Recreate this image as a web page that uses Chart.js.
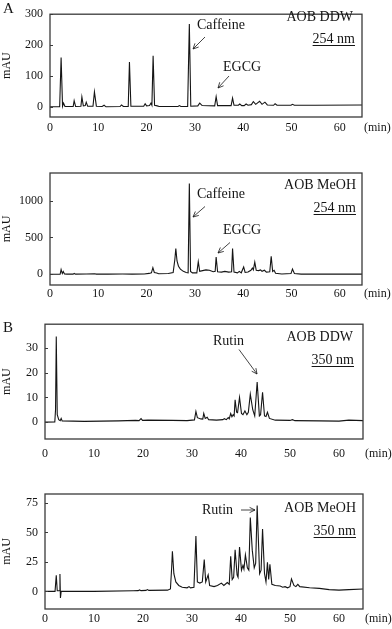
<!DOCTYPE html>
<html lang="en">
<head>
<meta charset="UTF-8">
<title>HPLC chromatograms</title>
<style>
    body { margin: 0; background: #fff; }
    #wrap { position: relative; width: 392px; height: 629px; }
    #wrap canvas { position: absolute; left: 0; }
</style>
</head>
<body>
<div id="wrap">
    <canvas id="c1" width="392" height="150" style="top:0px"></canvas>
    <canvas id="c2" width="392" height="160" style="top:150px"></canvas>
    <canvas id="c3" width="392" height="160" style="top:310px"></canvas>
    <canvas id="c4" width="392" height="159" style="top:470px"></canvas>
</div>

<script src="https://cdn.jsdelivr.net/npm/chart.js"></script>
<script>
    // [time (min), absorbance (mAU)]
    const ddw254 = [[0,0],[2.0,0],[2.3,160],[2.6,2],[2.8,12],[3.1,1],[4.8,1],[5.0,20],[5.3,1],[6.4,2],[6.6,32],[6.9,3],[7.3,4],[7.5,15],[7.8,2],
        [8.9,2],[9.2,48],[9.6,2],[10.8,1],[11.2,5],[11.6,0],[14.5,1],[14.8,6],[15.2,1],[16.2,1],[16.45,145],[16.75,2],[19.4,2],[19.7,10],[20.0,3],
        [20.6,4],[20.9,12],[21.1,5],[21.35,165],[21.65,5],[22.2,3],[22.6,1],[26.5,1],[26.8,4],[27.1,1],[28.5,1],[28.85,268],[29.15,2],[30.6,3],
        [31.0,12],[31.5,4],[34.1,3],[34.4,33],[34.7,4],[37.5,4],[37.8,28],[38.1,5],[39.0,5],[39.3,9],[39.7,4],[40.2,4],[40.6,9],[41.0,5],[41.7,7],
        [42.1,17],[42.6,8],[43.4,18],[43.9,8],[44.5,15],[45.0,6],[46.3,5],[46.6,10],[47.0,5],[49.9,5],[50.2,8],[50.6,5],[55,5],[64.6,6]];

    const meoh254 = [[0,0],[2.1,0],[2.3,65],[2.55,10],[2.75,38],[3.0,5],[3.5,2],[4.8,2],[5.0,12],[5.3,2],[7.5,5],[9.2,8],[9.6,2],[12,3],[15,4],
        [17,3],[19.5,5],[20.5,12],[21.0,20],[21.3,90],[21.6,25],[22.1,18],[22.5,8],[24.5,10],[25.5,25],[25.85,200],[26.05,350],[26.3,180],[26.6,110],
        [27.0,70],[27.6,40],[28.2,25],[28.6,20],[28.85,1230],[29.1,40],[29.5,20],[30.4,20],[30.7,170],[31.0,40],[31.6,50],[32.3,60],[33.0,55],
        [33.8,35],[34.2,40],[34.4,235],[34.7,35],[35.5,30],[36.2,40],[37.0,30],[37.6,35],[37.8,350],[38.1,30],[38.8,20],[39.2,40],[39.6,20],
        [40.1,100],[40.4,25],[41.0,30],[41.6,55],[41.9,85],[42.1,60],[42.4,165],[42.7,55],[43.2,50],[43.6,60],[43.9,40],[44.4,55],[44.8,30],
        [45.5,35],[45.8,245],[46.1,40],[46.4,55],[46.7,15],[48,5],[49.9,10],[50.2,70],[50.6,10],[52,3],[64.6,2]];

    const ddw350 = [[0,0],[2.0,0.1],[2.15,5],[2.3,34.5],[2.5,3],[2.8,1],[3.1,0.6],[3.3,1.5],[3.5,0.5],[8,0.3],[15,0.5],[18.5,0.7],[19.2,0.6],
        [19.6,1.4],[19.9,0.7],[21,0.8],[26,0.7],[29,0.6],[30.5,0.9],[30.8,4.3],[31.1,1.8],[31.8,1.3],[32.2,1.2],[32.4,3.5],[32.7,1.5],[33.1,2],
        [33.4,1],[35,0.8],[36.3,1],[36.6,1.4],[37.0,1],[37.4,1.8],[37.6,1.3],[37.9,3.5],[38.15,2.2],[38.4,3],[38.6,2.5],[38.8,9],[39.1,4],[39.3,3.8],
        [39.7,10],[40.1,3.5],[40.4,3],[40.8,4.5],[41.2,3],[41.5,4],[41.9,11.3],[42.4,5],[42.8,2.5],[43.3,16.2],[43.75,2.5],[44.0,3],[44.4,12],
        [44.8,2.5],[45.1,2.3],[45.4,4],[45.8,1.5],[47,0.8],[50,0.7],[50.5,1],[51,0.6],[56,0.5],[60,0.4],[62,0.8],[64.9,0.6]];

    const meoh350 = [[0,0],[2.05,0],[2.3,13.6],[2.5,0.5],[2.95,0.5],[3.05,14.7],[3.15,-5.7],[3.3,0],[10,0],[18,0.5],[19,0.6],[19.3,1.2],[19.6,0.6],
        [20.6,0.8],[20.9,1.5],[21.2,0.8],[25,1],[25.6,2],[25.85,20],[26.0,34],[26.3,15],[26.7,8],[27.3,5],[28,3.5],[29,3],[29.4,4],[29.7,3],
        [30.4,3.5],[30.8,47],[31.1,8],[31.6,7],[32.1,8],[32.5,27],[32.8,8],[33.3,14],[33.6,5],[34.5,4],[35.2,5],[36,7],[36.5,5],[37.2,7.5],[37.6,6],
        [37.9,29.7],[38.2,10],[38.5,12],[38.8,35.4],[39.2,14],[39.4,12],[39.7,37.6],[40.1,18],[40.4,22],[40.6,19],[40.9,31],[41.3,20],[41.6,18],
        [41.9,62.8],[42.3,35],[42.7,20],[43.0,24],[43.3,73],[43.8,15],[44.1,18],[44.4,53],[44.8,15],[45.1,8],[45.4,24.6],[45.65,10],[45.9,23],
        [46.3,6],[47,5],[48,4.5],[48.5,3.5],[49,4],[49.5,3],[50,4],[50.3,10.5],[50.8,5],[51.2,4],[51.6,6],[52,4],[54,3],[56,2.5],[58,1.5],[60,1],
        [62,1.5],[64.9,2]];

    const timeTicks = [0, 10, 20, 30, 40, 50, 60];
    const ticks254ddw = [0, 100, 200, 300];
    const ticks254meoh = [0, 500, 1000];
    const ticks350ddw = [0, 10, 20, 30];
    const ticks350meoh = [0, 25, 50, 75];

    const serif = '"Liberation Serif", "DejaVu Serif", serif';
    const ink = '#151515';

    // canvas-local plot box and label placement for every panel
    const panels = [
        {id: 'c1', data: ddw254, yTicks: ticks254ddw, yMin: -33, yMax: 300, xMax: 64.6,
            box: {l: 50, r: 362, t: 5, b: 117}, xPad: 4, minY: 131,
            texts: [
                {s: 'A', x: 3, y: 13, size: 15},
                {s: 'AOB DDW', x: 353, y: 21, align: 'right'},
                {s: '254 nm', x: 355, y: 43, align: 'right', under: true},
                {s: 'Caffeine', x: 197, y: 29},
                {s: 'EGCG', x: 223, y: 71}
            ],
            arrows: [[205, 37, 193, 49], [229, 76, 218, 88]]},
        {id: 'c2', data: meoh254, yTicks: ticks254meoh, yMin: -145, yMax: 1373, xMax: 64.6,
            box: {l: 50, r: 362, t: 23, b: 135}, xPad: 2, minY: 147,
            texts: [
                {s: 'AOB MeOH', x: 356, y: 39, align: 'right'},
                {s: '254 nm', x: 356, y: 62, align: 'right', under: true},
                {s: 'Caffeine', x: 197, y: 48},
                {s: 'EGCG', x: 223, y: 84}
            ],
            arrows: [[205, 56.5, 193, 67], [230, 92.5, 218, 103]]},
        {id: 'c3', data: ddw350, yTicks: ticks350ddw, yMin: -6.8, yMax: 39.5, xMax: 64.9,
            box: {l: 45, r: 363, t: 14, b: 129}, xPad: 8, minY: 147,
            texts: [
                {s: 'B', x: 3, y: 22, size: 15},
                {s: 'AOB DDW', x: 353, y: 31, align: 'right'},
                {s: '350 nm', x: 354, y: 54, align: 'right', under: true},
                {s: 'Rutin', x: 213, y: 35}
            ],
            arrows: [[239, 39.5, 257, 64]]},
        {id: 'c4', data: meoh350, yTicks: ticks350meoh, yMin: -15, yMax: 82.7, xMax: 64.9,
            box: {l: 45, r: 363, t: 24, b: 139}, xPad: 3, minY: 152,
            texts: [
                {s: 'AOB MeOH', x: 356, y: 42, align: 'right'},
                {s: '350 nm', x: 356, y: 65, align: 'right', under: true},
                {s: 'Rutin', x: 202, y: 44}
            ],
            arrows: [[241, 40, 255, 40]]}
    ];

    function arrow(ctx, x1, y1, x2, y2) {
        const a = Math.atan2(y2 - y1, x2 - x1);
        const h = 6;
        ctx.beginPath();
        ctx.moveTo(x1, y1);
        ctx.lineTo(x2, y2);
        ctx.moveTo(x2 - h * Math.cos(a - 0.45), y2 - h * Math.sin(a - 0.45));
        ctx.lineTo(x2, y2);
        ctx.lineTo(x2 - h * Math.cos(a + 0.45), y2 - h * Math.sin(a + 0.45));
        ctx.stroke();
    }

    const framePlugin = {
        id: 'frame',
        afterDraw(chart, args, opts) {
            const p = opts.panel;
            const ctx = chart.ctx;
            const a = chart.chartArea;
            const y = chart.scales.y;
            ctx.save();
            ctx.strokeStyle = '#3a3a3a';
            ctx.lineWidth = 1.3;
            ctx.strokeRect(a.left, a.top, a.right - a.left, a.bottom - a.top);
            ctx.lineWidth = 1;
            ctx.beginPath();
            p.yTicks.forEach(v => {
                const py = Math.round(y.getPixelForValue(v)) + 0.5;
                ctx.moveTo(a.left, py);
                ctx.lineTo(a.left + 3, py);
            });
            ctx.stroke();

            ctx.fillStyle = ink;
            ctx.strokeStyle = ink;
            ctx.textBaseline = 'alphabetic';
            p.texts.forEach(t => {
                ctx.font = (t.size || 14) + 'px ' + serif;
                ctx.textAlign = t.align || 'left';
                ctx.fillText(t.s, t.x, t.y);
                if (t.under) {
                    const w = ctx.measureText(t.s).width;
                    const x0 = t.align === 'right' ? t.x - w : t.x;
                    ctx.lineWidth = 1;
                    ctx.beginPath();
                    ctx.moveTo(x0, t.y + 2.5);
                    ctx.lineTo(x0 + w, t.y + 2.5);
                    ctx.stroke();
                }
            });
            ctx.font = '12px ' + serif;
            ctx.textAlign = 'left';
            ctx.fillText('(min)', a.right + 2, p.minY);

            ctx.lineWidth = 0.8;
            p.arrows.forEach(r => arrow(ctx, r[0], r[1], r[2], r[3]));
            ctx.restore();
        }
    };

    panels.forEach(p => {
        const canvas = document.getElementById(p.id);
        const h = canvas.height;
        new Chart(canvas, {
            type: 'line',
            data: {
                datasets: [{
                    data: p.data.map(d => ({x: d[0], y: d[1]})),
                    borderColor: ink,
                    borderWidth: 1.1,
                    pointRadius: 0,
                    tension: 0,
                    fill: false
                }]
            },
            options: {
                responsive: false,
                animation: false,
                events: [],
                layout: {padding: {left: 0, right: 392 - p.box.r, top: p.box.t, bottom: 0}},
                plugins: {
                    legend: {display: false},
                    tooltip: {enabled: false},
                    frame: {panel: p}
                },
                scales: {
                    x: {
                        type: 'linear',
                        min: 0,
                        max: p.xMax,
                        afterBuildTicks: s => { s.ticks = timeTicks.map(v => ({value: v})); },
                        afterFit: s => { s.height = h - p.box.b; },
                        grid: {display: false, drawTicks: false},
                        border: {display: false},
                        ticks: {color: ink, padding: p.xPad, maxRotation: 0, callback: v => String(v),
                            font: {family: serif, size: 12}}
                    },
                    y: {
                        type: 'linear',
                        min: p.yMin,
                        max: p.yMax,
                        afterBuildTicks: s => { s.ticks = p.yTicks.map(v => ({value: v})); },
                        afterFit: s => { s.width = p.box.l; },
                        grid: {display: false, drawTicks: false},
                        border: {display: false},
                        ticks: {color: ink, padding: 7, callback: v => String(v), font: {family: serif, size: 12}},
                        title: {display: true, text: 'mAU', color: ink, padding: 0, font: {family: serif, size: 12}}
                    }
                }
            },
            plugins: [framePlugin]
        });
    });
</script>
</body>
</html>
